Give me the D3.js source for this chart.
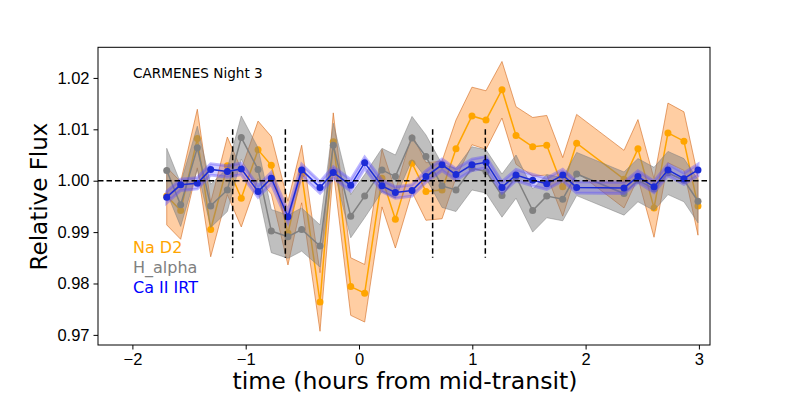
<!DOCTYPE html>
<meta charset="utf-8">
<style>
body { margin: 0; background: #fff; }
svg { font-family: "DejaVu Sans", sans-serif; }
.axis text { font-size: 16.5px; fill: #000; }
.axis path, .axis line { stroke: #000; }
</style>
<svg width="789" height="395"></svg>
<script src="https://d3js.org/d3.v7.min.js"></script>
<script>

// hours from mid-transit
var times = [-1.697, -1.574, -1.427, -1.309, -1.162, -1.039, -0.891, -0.774, -0.627, -0.506,
             -0.344, -0.227, -0.073, 0.050, 0.203, 0.321, 0.468, 0.591, 0.733, 0.856,
             0.997, 1.121, 1.262, 1.386, 1.533, 1.657, 1.798, 1.921, 2.339, 2.462,
             2.604, 2.727, 2.868, 2.992];

var naD2 = [0.9970, 0.9942, 1.0082, 0.9905, 1.0029, 0.9966, 1.0060, 1.0030, 0.9898, 1.0013,
            0.9764, 1.0076, 0.9794, 0.9781, 1.0005, 0.9925, 1.0034, 0.9979, 0.9982, 1.0062,
            1.0126, 1.0118, 1.0177, 1.0088, 1.0066, 1.0069, 0.9988, 1.0073, 1.0003, 1.0062,
            0.9947, 1.0093, 1.0077, 0.9951];
var naD2Err = [0.0056, 0.0056, 0.0057, 0.0053, 0.0056, 0.0056, 0.0056, 0.0056, 0.0062, 0.0056,
               0.0057, 0.0056, 0.0056, 0.0056, 0.0056, 0.0056, 0.0056, 0.0056, 0.0056, 0.0056,
               0.0056, 0.0057, 0.0055, 0.0056, 0.0057, 0.0058, 0.0057, 0.0056, 0.0056, 0.0057,
               0.0057, 0.0058, 0.0057, 0.0057];

var hAlpha = [1.0020, 0.9953, 1.0064, 0.9951, 0.9982, 1.0084, 1.0022, 0.9902, 0.9891, 0.9905,
              0.9873, 1.0069, 0.9931, 0.9970, 1.0021, 1.0008, 1.0083, 1.0047, 0.9990, 0.9982,
              1.0024, 1.0018, 0.9971, 1.0008, 0.9942, 0.9970, 0.9964, 1.0013, 0.9975, 1.0001,
              0.9984, 1.0015, 1.0001, 0.9960];
var hAlphaErr = [0.0043, 0.0042, 0.0042, 0.0042, 0.0042, 0.0042, 0.0042, 0.0042, 0.0042, 0.0042,
                 0.0041, 0.0043, 0.0042, 0.0042, 0.0042, 0.0042, 0.0042, 0.0042, 0.0042, 0.0042,
                 0.0042, 0.0042, 0.0042, 0.0042, 0.0042, 0.0042, 0.0042, 0.0042, 0.0042, 0.0042,
                 0.0042, 0.0042, 0.0042, 0.0042];

var caIRT = [0.9968, 0.9992, 0.9995, 1.0022, 1.0018, 1.0023, 0.9979, 1.0005, 0.9930, 1.0021,
             0.9987, 1.0016, 0.9991, 1.0035, 0.9990, 0.9977, 0.9981, 1.0008, 1.0031, 1.0012,
             1.0031, 1.0036, 0.9987, 1.0011, 1.0001, 0.9994, 1.0011, 0.9987, 0.9986, 1.0008,
             0.9988, 1.0021, 1.0004, 1.0021];
var caIRTErr = [0.0011, 0.0011, 0.0011, 0.0011, 0.0011, 0.0011, 0.0011, 0.0011, 0.0011, 0.0011,
                0.0011, 0.0011, 0.0011, 0.0011, 0.0011, 0.0011, 0.0011, 0.0011, 0.0011, 0.0011,
                0.0011, 0.0011, 0.0011, 0.0011, 0.0011, 0.0011, 0.0011, 0.0011, 0.0011, 0.0011,
                0.0011, 0.0011, 0.0011, 0.0011];

// transit contact times
var contacts = [-1.115, -0.65, 0.65, 1.115];

var xTicks = [-2, -1, 0, 1, 2, 3];
var yTicks = [0.97, 0.98, 0.99, 1.00, 1.01, 1.02];

var svg = d3.select("svg");

var x = d3.scaleLinear().domain([-2.3036, 3.098]).range([98, 710]);
var y = d3.scaleLinear().domain([0.96803, 1.02596]).range([345, 47.3]);

var series = [
  {name: "Na D2", vals: naD2, err: naD2Err, line: "orange", fill: "#ff7f0e", fillOp: 0.38, edge: "#d2691e", edgeOp: 0.6, r: 3.5},
  {name: "H_alpha", vals: hAlpha, err: hAlphaErr, line: "gray", fill: "#808080", fillOp: 0.5, edge: "#808080", edgeOp: 0.5, r: 3.5},
  {name: "Ca II IRT", vals: caIRT, err: caIRTErr, line: "#1c2bd6", fill: "#4a3aff", fillOp: 0.25, edge: "#5a4aff", edgeOp: 0.4, r: 3.5}
];

var legendColors = ["orange", "gray", "blue"];

var plot = svg.append("g");

series.forEach(function(s) {
  var pts = times.map(function(t, i) { return {t: t, v: s.vals[i], e: s.err[i]}; });

  var band = d3.area()
      .x(function(d) { return x(d.t); })
      .y0(function(d) { return y(d.v - d.e); })
      .y1(function(d) { return y(d.v + d.e); });

  plot.append("path")
      .datum(pts)
      .attr("d", band)
      .attr("fill", s.fill)
      .attr("fill-opacity", s.fillOp)
      .attr("stroke", s.edge)
      .attr("stroke-opacity", s.edgeOp)
      .attr("stroke-width", s.name == "Ca II IRT" ? 3 : 1);

  var line = d3.line()
      .x(function(d) { return x(d.t); })
      .y(function(d) { return y(d.v); });

  plot.append("path")
      .datum(pts)
      .attr("d", line)
      .attr("fill", "none")
      .attr("stroke", s.line)
      .attr("stroke-width", 1.5);

  plot.selectAll(null)
    .data(pts)
    .enter().append("circle")
      .attr("cx", function(d) { return x(d.t); })
      .attr("cy", function(d) { return y(d.v); })
      .attr("r", s.r)
      .attr("fill", s.line);
});

// reference lines
plot.append("line")
    .attr("x1", 98).attr("x2", 710)
    .attr("y1", y(1.0)).attr("y2", y(1.0))
    .attr("stroke", "#000")
    .attr("stroke-width", 1.5)
    .attr("stroke-dasharray", "5.5,3");

plot.selectAll(".contact")
  .data(contacts)
  .enter().append("line")
    .attr("class", "contact")
    .attr("x1", function(d) { return x(d); })
    .attr("x2", function(d) { return x(d); })
    .attr("y1", y(1.01)).attr("y2", y(0.985))
    .attr("stroke", "#000")
    .attr("stroke-width", 1.5)
    .attr("stroke-dasharray", "5.5,3");

// axes
svg.append("g")
    .attr("class", "axis")
    .attr("transform", "translate(0,345)")
    .call(d3.axisBottom(x).tickValues(xTicks).tickSize(4.5).tickPadding(4)
      .tickFormat(function(d) { return d < 0 ? "\u2212" + Math.abs(d) : d; }))
    .call(function(g) { g.select(".domain").remove(); });

svg.append("g")
    .attr("class", "axis")
    .attr("transform", "translate(98,0)")
    .call(d3.axisLeft(y).tickValues(yTicks).tickSize(4.5).tickPadding(4)
      .tickFormat(d3.format(".2f")))
    .call(function(g) { g.select(".domain").remove(); });

svg.append("rect")
    .attr("x", 98).attr("y", 47.3)
    .attr("width", 612).attr("height", 297.7)
    .attr("fill", "none")
    .attr("stroke", "#000")
    .attr("stroke-width", 1);

// labels
svg.append("text")
    .attr("x", 405).attr("y", 389)
    .attr("text-anchor", "middle")
    .style("font-size", "23.6px")
    .text("time (hours from mid-transit)");

svg.append("text")
    .attr("transform", "translate(46.5,196.5) rotate(-90)")
    .attr("text-anchor", "middle")
    .style("font-size", "23px")
    .text("Relative Flux");

svg.append("text")
    .attr("x", 133).attr("y", 78.3)
    .style("font-size", "13.6px")
    .text("CARMENES Night 3");

svg.selectAll(".leg")
  .data(series)
  .enter().append("text")
    .attr("class", "leg")
    .attr("x", 133)
    .attr("y", function(d, i) { return 252.7 + i * 20; })
    .attr("fill", function(d, i) { return legendColors[i]; })
    .style("font-size", "16px")
    .text(function(d) { return d.name; });

</script>
